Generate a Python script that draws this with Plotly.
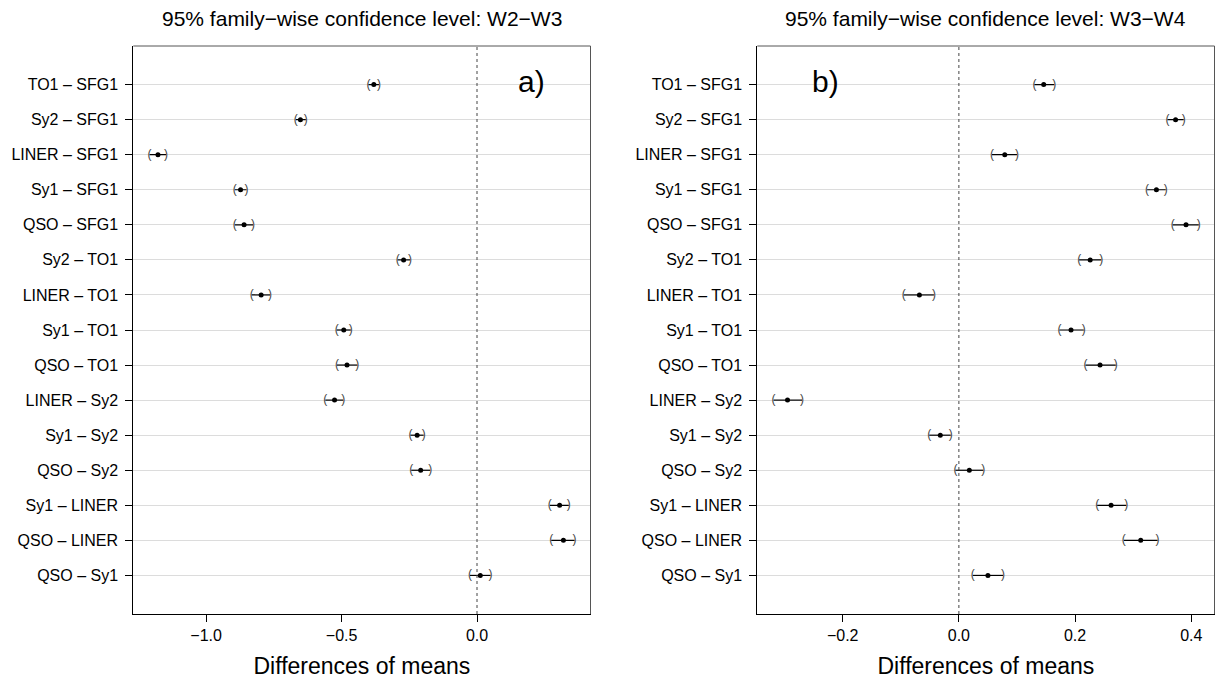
import plotly.graph_objects as go

# ---------------- data ----------------
labels = ["TO1 – SFG1", "Sy2 – SFG1", "LINER – SFG1", "Sy1 – SFG1", "QSO – SFG1",
          "Sy2 – TO1", "LINER – TO1", "Sy1 – TO1", "QSO – TO1", "LINER – Sy2",
          "Sy1 – Sy2", "QSO – Sy2", "Sy1 – LINER", "QSO – LINER", "QSO – Sy1"]

diff_w23 = [-0.381, -0.652, -1.178, -0.873, -0.860, -0.271, -0.797, -0.492, -0.480, -0.526,
            -0.221, -0.208, 0.305, 0.319, 0.012]
lwr_w23 = [-0.401, -0.669, -1.209, -0.894, -0.894, -0.293, -0.832, -0.518, -0.517, -0.560,
           -0.246, -0.243, 0.269, 0.274, -0.026]
upr_w23 = [-0.362, -0.632, -1.148, -0.851, -0.827, -0.247, -0.764, -0.466, -0.442, -0.494,
           -0.197, -0.173, 0.339, 0.360, 0.050]

diff_w34 = [0.146, 0.373, 0.079, 0.340, 0.391, 0.226, -0.068, 0.193, 0.243, -0.295,
            -0.032, 0.018, 0.262, 0.313, 0.050]
lwr_w34 = [0.130, 0.359, 0.057, 0.324, 0.368, 0.207, -0.095, 0.173, 0.218, -0.319,
           -0.051, -0.006, 0.238, 0.284, 0.024]
upr_w34 = [0.164, 0.387, 0.100, 0.356, 0.413, 0.245, -0.043, 0.215, 0.270, -0.270,
           -0.014, 0.042, 0.288, 0.342, 0.076]

titles = ["95% family−wise confidence level: W2−W3", "95% family−wise confidence level: W3−W4"]
panel_tags = ["a)", "b)"]
xtick_w23 = [-1.0, -0.5, 0.0]
xtick_w34 = [-0.2, 0.0, 0.2, 0.4]
xlabel = "Differences of means"

# ---------------- layout helpers ----------------
W, H = 1215, 683
FONT = "Liberation Sans, Arial, Helvetica, sans-serif"
n = len(labels)
rows = list(range(n, 0, -1))  # top row = n

def px_x(p):
    return p / W

def px_y(p):
    return 1 - p / H

ydom = [px_y(614), px_y(46)]
xdom1 = [px_x(133.3), px_x(590.5)]
xdom2 = [px_x(757.3), px_x(1214.5)]

fig = go.Figure()

def add_panel(diff, lwr, upr, xa, ya):
    sx, sy = [], []
    for lo, hi, r in zip(lwr, upr, rows):
        sx += [lo, hi, None]
        sy += [r, r, None]
    fig.add_trace(go.Scatter(x=sx, y=sy, mode="lines", line=dict(color="black", width=1.2),
                             xaxis=xa, yaxis=ya, showlegend=False, hoverinfo="skip"))
    fig.add_trace(go.Scatter(x=lwr, y=rows, mode="text", text=["("] * n,
                             textfont=dict(family=FONT, size=12, color="#444444"),
                             textposition="middle center",
                             xaxis=xa, yaxis=ya, showlegend=False, hoverinfo="skip"))
    fig.add_trace(go.Scatter(x=upr, y=rows, mode="text", text=[")"] * n,
                             textfont=dict(family=FONT, size=12, color="#444444"),
                             textposition="middle center",
                             xaxis=xa, yaxis=ya, showlegend=False, hoverinfo="skip"))
    fig.add_trace(go.Scatter(x=diff, y=rows, mode="markers",
                             marker=dict(color="black", size=5),
                             xaxis=xa, yaxis=ya, showlegend=False))

add_panel(diff_w23, lwr_w23, upr_w23, "x", "y")
add_panel(diff_w34, lwr_w34, upr_w34, "x2", "y2")

common_x = dict(showgrid=False, zeroline=False, showline=True, linecolor="black", linewidth=1,
                ticks="outside", ticklen=7, tickcolor="black", tickwidth=1,
                tickfont=dict(family=FONT, size=16, color="black"), tickformat=".1f",
                title=dict(text=xlabel, font=dict(family=FONT, size=23, color="black"), standoff=14))
common_y = dict(showgrid=True, gridcolor="#dcdcdc", gridwidth=1, zeroline=False,
                showline=True, linecolor="black", linewidth=1,
                ticks="outside", ticklen=7, tickcolor="black", tickwidth=1,
                ticklabelstandoff=4,
                tickvals=rows, ticktext=labels, range=[-0.1, 16.1],
                tickfont=dict(family=FONT, size=16, color="black"), domain=ydom)

fig.update_layout(
    width=W, height=H, margin=dict(l=0, r=0, t=0, b=0),
    paper_bgcolor="white", plot_bgcolor="white",
    xaxis=dict(domain=xdom1, range=[-1.269, 0.419], tickvals=xtick_w23, anchor="y", **common_x),
    xaxis2=dict(domain=xdom2, range=[-0.347, 0.440], tickvals=xtick_w34, anchor="y2", **common_x),
    yaxis=dict(anchor="x", **common_y),
    yaxis2=dict(anchor="x2", **common_y),
    showlegend=False,
)

shapes = []
for xr, yr in (("x", "y"), ("x2", "y2")):
    # dotted zero reference line
    shapes.append(dict(type="line", xref=xr, yref=yr + " domain", x0=0, x1=0, y0=0, y1=1,
                       line=dict(color="#444444", width=1, dash="dot"), layer="above"))
    # top and right frame lines (grey)
    shapes.append(dict(type="line", xref=xr + " domain", yref=yr + " domain", x0=0, x1=1, y0=1, y1=1,
                       line=dict(color="#555555", width=1)))
    shapes.append(dict(type="line", xref=xr + " domain", yref=yr + " domain", x0=1, x1=1, y0=0, y1=1,
                       line=dict(color="#555555", width=1)))
fig.update_layout(shapes=shapes)

annotations = []
for t, xd in zip(titles, (xdom1, xdom2)):
    annotations.append(dict(text=t, xref="paper", yref="paper", x=(xd[0] + xd[1]) / 2, y=px_y(18),
                            xanchor="center", yanchor="middle", showarrow=False,
                            font=dict(family=FONT, size=21, color="black")))
annotations.append(dict(text=panel_tags[0], xref="paper", yref="paper", x=px_x(531.5), y=px_y(81),
                        xanchor="center", yanchor="middle", showarrow=False,
                        font=dict(family=FONT, size=30, color="black")))
annotations.append(dict(text=panel_tags[1], xref="paper", yref="paper", x=px_x(825), y=px_y(81),
                        xanchor="center", yanchor="middle", showarrow=False,
                        font=dict(family=FONT, size=30, color="black")))
fig.update_layout(annotations=annotations)

fig.write_html("out.html")
